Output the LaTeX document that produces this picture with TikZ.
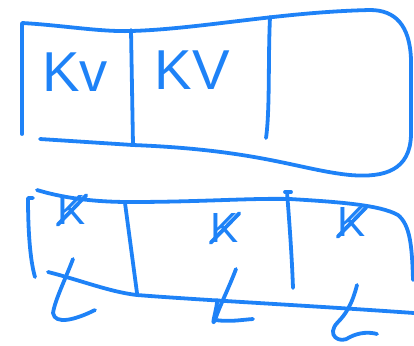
\documentclass[tikz,border=0pt]{standalone}
\usepackage{fontspec}
\setmainfont{Liberation Sans}
\definecolor{pen}{HTML}{1E82F7}

\begin{document}
\begin{tikzpicture}[x=0.025cm,y=-0.025cm,
  ink/.style={draw=pen,line width=2.7pt,line cap=round,line join=round},
  big/.style={text=pen,font=\fontsize{40}{40}\selectfont,inner sep=0pt},
  small/.style={text=pen,font=\fontsize{30}{30}\selectfont,inner sep=0pt}
]
  \useasboundingbox (0,0) rectangle (414,345);

  % upper cache
  \draw[ink] (22,24) -- (22,134);
  \draw[ink] (22,23) .. controls (60,25) and (100,32) .. (131,31)
    .. controls (200,29) and (280,12) .. (370,10)
    .. controls (395,10) and (410,25) .. (411,60)
    -- (411,135) .. controls (410,170) and (385,178) .. (350,175)
    .. controls (300,170) and (260,150) .. (133,145)
    -- (40,139);
  \draw[ink] (131,30) -- (133,145);
  \draw[ink] (270,17) .. controls (268,60) and (270,110) .. (266,138);
  \node[big] (kv1) at (75,72) {Kv};
  \node[big] (kv2) at (192,70) {KV};

  % lower cache
  \draw[ink] (33,198) -- (28,198) .. controls (28,230) and (30,260) .. (35,277);
  \draw[ink] (37,190) .. controls (60,197) and (90,202) .. (130,202)
    .. controls (200,202) and (250,198) .. (290,199)
    .. controls (340,202) and (380,205) .. (398,215)
    .. controls (410,225) and (412,245) .. (413,280);
  \draw[ink] (48,272) .. controls (80,280) and (110,292) .. (137,295)
    .. controls (200,300) and (300,305) .. (414,313);
  \draw[ink] (125,203) -- (137,293);
  \draw[ink] (285,192) -- (291,192);
  \draw[ink] (287,192) .. controls (290,230) and (292,260) .. (293,288);

  \node[small] (k1) at (72,210) {K};
  \node[small] (k2) at (225,228) {K};
  \node[small] (k3) at (352,222) {K};
  \draw[ink] (k1.south west) -- (k1.north east);
  \draw[ink] (k2.south west) -- (k2.north east);
  \draw[ink] (k3.south west) -- (k3.north east);

  % tags
  \draw[ink] (73,259) .. controls (65,280) and (55,300) .. (53,313)
    .. controls (55,325) and (75,320) .. (95,310);
  \draw[ink] (236,269) .. controls (228,290) and (220,305) .. (215,320)
    .. controls (210,330) and (218,305) .. (217,300);
  \draw[ink] (215,320) .. controls (230,322) and (240,320) .. (253,319);
  \draw[ink] (357,285) .. controls (352,305) and (345,315) .. (338,322)
    .. controls (325,335) and (340,345) .. (350,337)
    .. controls (360,332) and (370,332) .. (377,334);
\end{tikzpicture}
\end{document}
